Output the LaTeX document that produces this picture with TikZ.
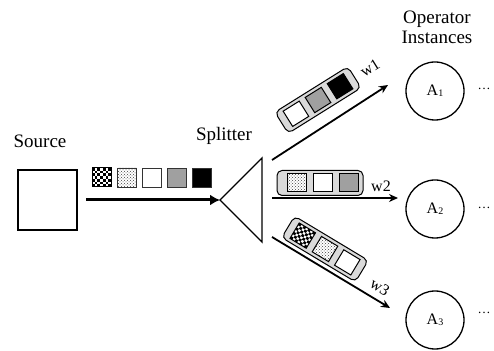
\documentclass[tikz,border=0pt]{standalone}
\usepackage{fontspec}
\setmainfont{Liberation Serif}
\usetikzlibrary{arrows.meta,patterns}
\definecolor{cellgray}{RGB}{160,160,160}
\definecolor{buffill}{RGB}{218,218,218}
\begin{document}
\begin{tikzpicture}[x=1pt,y=1pt,
 lbl/.style={font=\fontsize{19}{20}\selectfont, inner sep=0pt},
 wlbl/.style={font=\fontsize{16}{16}\selectfont, inner sep=0pt},
 cell/.style={draw=black!80, line width=0.9pt, minimum width=19pt, minimum height=19pt, inner sep=0pt},
 bcell/.style={draw=black, line width=1pt, minimum width=19pt, minimum height=18pt, inner sep=0pt},
 buf/.style={draw=black, line width=1pt, fill=buffill, rounded corners=5pt, minimum width=86pt, minimum height=25pt, inner sep=0pt},
 inst/.style={circle, draw, line width=1.3pt, minimum size=58pt, inner sep=0pt, font=\fontsize{16}{16}\selectfont},
 dts/.style={preaction={fill=white}, pattern=crosshatch dots, pattern color=black!75},
 gry/.style={fill=cellgray},
 blk/.style={fill=black},
 wht/.style={fill=white},
 thinarrow/.style={line width=1.8pt, -{Stealth[length=9pt,width=8pt]}},
 dotsl/.style={font=\fontsize{13}{13}\selectfont, inner sep=0pt, anchor=base},
 chkcell/.pic={
   \fill[white] (-9.5,-9.5) rectangle (9.5,9.5);
   \foreach \i in {0,...,6}{\foreach \j in {0,...,6}{
     \pgfmathtruncatemacro\k{mod(\i+\j,2)}
     \ifnum\k=0 \fill[black] (-9.5+\i*2.714,-9.5+\j*2.714) rectangle ++(2.714,2.714);\fi}}
   \draw[line width=1pt] (-9.5,-9.5) rectangle (9.5,9.5);
 },
]
\useasboundingbox (0,0) rectangle (494,350);
% y axis: Y = 350 - y_pixel

% source
\node[lbl] (srclbl) at (40,209) {Source};
\node[draw, line width=1.2pt, minimum width=59pt, minimum height=60pt, inner sep=0pt] (src) at (47.5,150) {};

% stream cells
\pic (s1) at (101.5,172.5) {chkcell};
\node[cell,dts] (s2) at (127,172.5) {};
\node[cell,wht] (s3) at (152,172.5) {};
\node[cell,gry] (s4) at (177,172.5) {};
\node[cell,blk] (s5) at (202,172.5) {};

% splitter
\node[lbl] (spllbl) at (224,214) {Splitter};
\coordinate (spL) at (220,150);
\coordinate (spT) at (262,192);
\coordinate (spB) at (262,108);
\draw[line width=1.3pt, line join=miter] (spL) -- (spT) -- (spB) -- cycle;

% main arrow
\coordinate (mA) at (86,150);
\draw[line width=3pt, -{Latex[length=10pt,width=11pt]}] (mA) -- (spL);

% instances
\node[lbl, align=center] (opl) at (437,323) {Operator\\Instances};
\node[inst] (A1) at (435,259) {A\raisebox{-1pt}{\fontsize{10}{10}\selectfont 1}};
\node[inst] (A2) at (435,141) {A\raisebox{-1pt}{\fontsize{10}{10}\selectfont 2}};
\node[inst] (A3) at (435,30) {A\raisebox{-1pt}{\fontsize{10}{10}\selectfont 3}};
\node[dotsl] (d1) at (484,260) {\ldots};
\node[dotsl] (d2) at (484,141) {\ldots};
\node[dotsl] (d3) at (484,36) {\ldots};

% outgoing arrows
\coordinate (o1s) at (272,190); \coordinate (o1e) at (388,265);
\coordinate (o2s) at (272,152); \coordinate (o2e) at (398,152);
\coordinate (o3s) at (272,113); \coordinate (o3e) at (390,42);
\draw[thinarrow] (o1s) -- (o1e);
\draw[thinarrow] (o2s) -- (o2e);
\draw[thinarrow] (o3s) -- (o3e);

% buffer 1
\begin{scope}[shift={(318,250)}, rotate=32]
\node[buf, transform shape] (b1) at (0,0) {};
\node[bcell,wht, transform shape] (b1a) at (-26,0) {};
\node[bcell,gry, transform shape] (b1b) at (0,0) {};
\node[bcell,blk, transform shape] (b1c) at (26,0) {};
\end{scope}
\node[wlbl, rotate=32] (w1) at (370,282) {w1};

% buffer 2
\node[buf] (b2) at (320,167) {};
\node[bcell,dts] (b2a) at (296.5,167) {};
\node[bcell,wht] (b2b) at (323,167) {};
\node[bcell,gry] (b2c) at (348.5,167) {};
\node[wlbl] (w2) at (381,164) {w2};

% buffer 3
\begin{scope}[shift={(325,101)}, rotate=-31]
\node[buf, transform shape] (b3) at (0,0) {};
\pic[transform shape, yscale=18/19] (b3a) at (-26,0) {chkcell};
\node[bcell,dts, transform shape] (b3b) at (0,0) {};
\node[bcell,wht, transform shape] (b3c) at (26,0) {};
\end{scope}
\node[wlbl, rotate=-32] (w3) at (380,63) {w3};
\end{tikzpicture}
\end{document}
